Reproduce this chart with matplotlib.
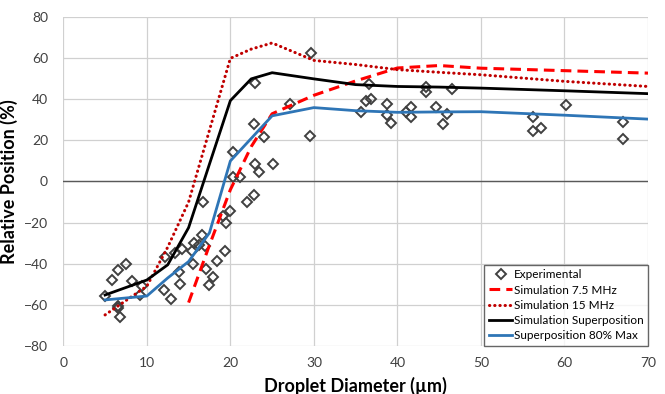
import matplotlib
matplotlib.use("Agg")
import matplotlib.pyplot as plt
import numpy as np

plt.rcParams['font.family'] = ['Lato', 'DejaVu Sans']

# Experimental droplets (diameter um, relative position %)
exp_x = [5.0, 5.8, 6.5, 7.5, 6.6, 6.5, 6.8, 8.2, 9.4, 9.2,
         12.0, 12.9, 14.0, 13.9, 12.2, 13.4, 14.2, 15.4, 15.7, 16.2,
         17.0, 16.6, 16.7, 15.5, 17.1, 17.9, 17.4, 18.4, 19.4, 19.1,
         19.5, 19.9, 20.3, 21.1, 20.3, 22.0, 22.8, 22.9, 23.4, 25.1,
         22.8, 24.0, 22.9, 27.2, 29.5, 29.7, 35.7, 36.2, 36.8, 36.6,
         38.8, 38.7, 39.2, 41.0, 41.6, 41.6, 43.4, 43.4, 44.6, 45.9,
         45.5, 46.5, 56.2, 56.2, 57.2, 60.2, 67.0, 67.0]
exp_y = [-55.8, -48.0, -43.0, -40.3, -60.6, -61.5, -65.8, -48.4, -50.9, -55.3,
         -52.8, -57.4, -49.9, -43.9, -36.6, -34.9, -33.0, -33.8, -30.0, -30.9,
         -31.4, -26.0, -10.2, -40.1, -42.7, -46.6, -50.4, -38.5, -33.8, -17.0,
         -20.3, -14.6, 2.1, 2.1, 14.6, -9.8, -6.5, 8.6, 4.4, 8.5,
         28.1, 21.5, 48.0, 37.8, 22.4, 62.6, 33.7, 39.0, 40.2, 47.5,
         37.6, 32.5, 28.3, 34.1, 36.1, 31.2, 46.0, 43.4, 36.1, 32.7,
         28.0, 45.2, 31.4, 24.4, 26.3, 37.3, 29.0, 20.8]

# Simulations
sim_x = [5, 10, 12.5, 15, 17.5, 20, 22.5, 25, 30, 35, 40, 45, 50, 60, 70]
sim_75 = [np.nan, np.nan, np.nan, -59, -31, -4, 17, 33, 42, 49, 55.3, 56.5, 55.2, 54, 52.8]
sim_15 = [-65, -51, -32, -10, 25, 60, 64.5, 67.5, 59, 57, 54.5, 53.2, 52, 48.8, 46.3]
sim_sup = [-55.3, -48, -40.6, -22.5, 8.5, 39.4, 50, 53, 50, 47.2, 46.3, 46, 45.5, 44.2, 42.8]
sup_80 = [-57.7, -55.8, -47, -39, -25, 10, 21, 32, 36, 34.5, 33.7, 33.9, 34, 32.3, 30.4]

fig = plt.figure(figsize=(6.65, 3.94), dpi=100)
ax = fig.add_axes([0.0952, 0.1226, 0.8792, 0.8335])

ax.plot(exp_x, exp_y, linestyle='none', marker='D', markersize=5.5,
        markerfacecolor='none', markeredgecolor='#404040', markeredgewidth=1.4,
        label='Experimental', zorder=3)
ax.plot(sim_x, sim_75, color='#ff0000', lw=2.2, dashes=(3.5, 2),
        label='Simulation 7.5 MHz', zorder=4)
ax.plot(sim_x, sim_15, color='#c00000', lw=2.2, linestyle=(0, (0.1, 1.6)),
        dash_capstyle='round', label='Simulation 15 MHz', zorder=4)
ax.plot(sim_x, sim_sup, color='black', lw=2.0, label='Simulation Superposition', zorder=4)
ax.plot(sim_x, sup_80, color='#2e75b6', lw=2.0, label='Superposition 80% Max', zorder=4)

ax.set_xlim(0, 70)
ax.set_ylim(-80, 80)
ax.set_xticks(np.arange(0, 71, 10))
ax.set_yticks(np.arange(-80, 81, 20))
ax.grid(True, color='#d0d0d0', lw=0.9)
ax.set_axisbelow(True)
ax.axhline(0, color='#595959', lw=1.0, zorder=2)
for s in ax.spines.values():
    s.set_visible(False)
ax.tick_params(length=0, labelsize=10, colors='#404040', pad=8)
ax.tick_params(axis='y', pad=11)

ax.set_xlabel('Droplet Diameter (\u00b5m)', fontsize=13, fontweight='bold', labelpad=6)
ax.set_ylabel('Relative Position (%)', fontsize=13, fontweight='bold', labelpad=4)

leg = ax.legend(loc='lower right', fontsize=8.5, frameon=True, fancybox=False,
                borderaxespad=0, handlelength=2.0, handletextpad=0.1,
                labelspacing=0.35, borderpad=0.4)
leg.get_frame().set_edgecolor('#404040')
leg.get_frame().set_linewidth(1.0)

fig.savefig('out.png', dpi=100)
